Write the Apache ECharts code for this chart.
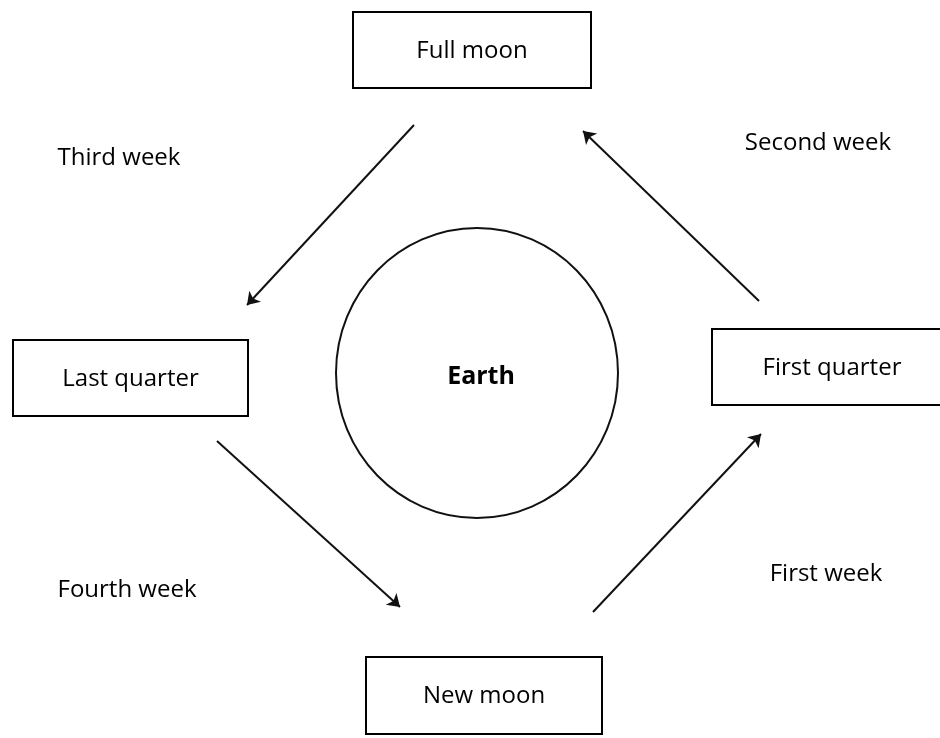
<!DOCTYPE html>
<html>
<head>
<meta charset="utf-8">
<script src="https://cdn.jsdelivr.net/npm/echarts@6/dist/echarts.min.js"></script>
<style>
  html, body { margin: 0; padding: 0; background: #fff; }
  #chart { width: 940px; height: 738px; }
</style>
</head>
<body>
<div id="chart"></div>
<script>
// phases of the moon; boxes as [left, top, right, bottom] in page coordinates (y down)
const phaseNames = ['Full moon', 'Last quarter', 'First quarter', 'New moon'];
const phaseBoxes = [
  [353, 12, 591, 88],
  [13, 340, 248, 416],
  [712, 329, 952, 405],
  [366, 657, 602, 734]
];

const weekNames = ['Third week', 'Second week', 'Fourth week', 'First week'];
const weekCenters = [[119, 158], [818, 143], [127, 590], [826, 574]];

// arrows: [from, to]
const arrowPaths = [
  [[414, 125], [247, 305]],
  [[759, 301], [583, 131]],
  [[217, 441], [400, 607]],
  [[593, 612], [761, 434]]
];

// earth outline [left, top, right, bottom] and its label point
const earthBox = [336, 228, 618, 518];
const earthLabel = [481, 377];

const ink = '#000';
const font = '"Open Sans", "Noto Sans", sans-serif';

const chart = echarts.init(document.getElementById('chart'), null, { renderer: 'canvas' });

function corners(api) {
  const a = api.coord([api.value(0), api.value(1)]);
  const b = api.coord([api.value(2), api.value(3)]);
  return [Math.min(a[0], b[0]), Math.min(a[1], b[1]), Math.abs(b[0] - a[0]), Math.abs(b[1] - a[1])];
}

function textEl(text, x, y, weight, size) {
  return {
    type: 'text',
    style: {
      text: text,
      x: x,
      y: y,
      align: 'center',
      verticalAlign: 'middle',
      fill: ink,
      font: weight + ' ' + size + 'px ' + font
    }
  };
}

function renderBox(params, api) {
  const r = corners(api);
  return {
    type: 'group',
    children: [
      {
        type: 'rect',
        shape: { x: r[0], y: r[1], width: r[2], height: r[3] },
        style: { fill: '#fff', stroke: ink, lineWidth: 2 }
      },
      textEl(phaseNames[params.dataIndex], r[0] + r[2] / 2, r[1] + r[3] / 2 + 1, 'normal', 24)
    ]
  };
}

function renderEarth(params, api) {
  const r = corners(api);
  const p = api.coord(earthLabel);
  return {
    type: 'group',
    children: [
      {
        type: 'ellipse',
        shape: { cx: r[0] + r[2] / 2, cy: r[1] + r[3] / 2, rx: r[2] / 2, ry: r[3] / 2 },
        style: { fill: '#fff', stroke: '#111', lineWidth: 2 }
      },
      textEl('Earth', p[0], p[1], 'bold', 25)
    ]
  };
}

function renderWeek(params, api) {
  const p = api.coord([api.value(0), api.value(1)]);
  return textEl(weekNames[params.dataIndex], p[0], p[1], 'normal', 24);
}

chart.setOption({
  backgroundColor: '#fff',
  animation: false,
  grid: { left: 0, right: 0, top: 0, bottom: 0 },
  xAxis: { type: 'value', min: 0, max: 940, show: false },
  yAxis: { type: 'value', min: 0, max: 738, inverse: true, show: false },
  series: [
    {
      type: 'custom',
      clip: false,
      renderItem: renderEarth,
      data: [earthBox],
      z: 1
    },
    {
      type: 'lines',
      coordinateSystem: 'cartesian2d',
      symbol: ['none', 'arrow'],
      symbolSize: 12,
      lineStyle: { color: '#111', width: 2, opacity: 1 },
      data: arrowPaths.map(function (p) { return { coords: p }; }),
      z: 2
    },
    {
      type: 'custom',
      clip: false,
      renderItem: renderBox,
      data: phaseBoxes,
      z: 3
    },
    {
      type: 'custom',
      clip: false,
      renderItem: renderWeek,
      data: weekCenters,
      z: 3
    }
  ]
});
</script>
</body>
</html>
